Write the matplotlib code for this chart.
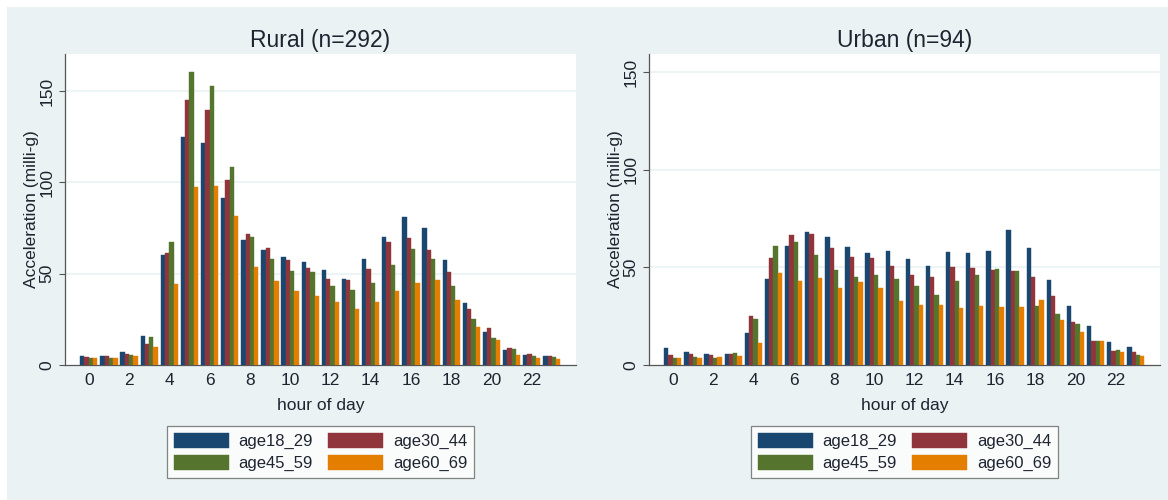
import numpy as np
import matplotlib
matplotlib.use("Agg")
import matplotlib.pyplot as plt
from matplotlib.patches import Rectangle

plt.rcParams['font.family'] = ['Liberation Sans', 'DejaVu Sans']

# mean acceleration by hour of day, per age group
hours = np.arange(24)
groups = ['age18_29', 'age30_44', 'age45_59', 'age60_69']

rural_18_29 = [4.9, 4.7, 6.9, 16.1, 60.3, 124.8, 121.7, 91.4, 68.5, 63.2, 59.2, 56.3,
               52.1, 47.1, 58.3, 70.3, 81.1, 74.9, 57.7, 33.8, 18.1, 8.4, 5.5, 4.9]
rural_30_44 = [4.2, 4.7, 5.8, 11.5, 61.2, 145.2, 139.8, 101.4, 71.6, 63.9, 57.4, 53.2,
               47.0, 46.6, 52.6, 67.2, 69.4, 63.2, 51.2, 30.7, 20.1, 9.3, 5.8, 4.7]
rural_45_59 = [3.7, 3.7, 5.5, 15.2, 67.2, 160.6, 152.9, 108.3, 70.3, 58.3, 51.3, 50.8,
               43.1, 41.1, 44.7, 55.0, 63.4, 57.9, 43.5, 25.2, 14.8, 8.8, 4.7, 4.6]
rural_60_69 = [3.7, 3.7, 4.7, 10.0, 44.4, 97.6, 98.3, 81.9, 53.7, 46.2, 40.6, 37.6,
               34.3, 30.5, 34.5, 40.7, 44.9, 46.6, 35.6, 21.0, 13.5, 5.7, 3.7, 3.5]

urban_18_29 = [8.7, 6.8, 5.6, 5.6, 16.4, 43.8, 60.9, 68.1, 65.5, 60.4, 57.2, 58.5,
               54.3, 50.7, 58.0, 57.5, 58.2, 68.9, 60.1, 43.3, 30.0, 20.1, 11.6, 9.2]
urban_30_44 = [5.3, 5.5, 4.9, 5.8, 25.1, 54.8, 66.5, 66.9, 59.9, 55.4, 54.6, 50.8,
               45.9, 44.9, 50.0, 49.8, 48.5, 47.9, 45.2, 35.5, 21.8, 12.5, 7.2, 6.7]
urban_45_59 = [3.6, 3.9, 3.4, 6.3, 23.7, 60.9, 63.1, 56.1, 48.6, 45.2, 45.9, 43.8,
               40.4, 35.8, 43.0, 46.1, 49.1, 47.9, 30.4, 25.9, 21.2, 12.1, 7.7, 4.9]
urban_60_69 = [3.8, 3.6, 3.9, 4.4, 11.4, 46.9, 42.8, 44.4, 39.2, 42.5, 39.2, 32.9,
               30.7, 30.5, 29.2, 30.2, 29.7, 29.7, 33.3, 22.9, 17.1, 12.5, 6.8, 4.6]

panels = [
    ('Rural (n=292)', [rural_18_29, rural_30_44, rural_45_59, rural_60_69], 170.4),
    ('Urban (n=94)', [urban_18_29, urban_30_44, urban_45_59, urban_60_69], 159.2),
]

# stata s2color palette
colors = ['#1a476f', '#90353b', '#55752f', '#e37e00']
bg = '#eaf2f3'
txt = '#1e2430'

fig = plt.figure(figsize=(11.68, 5.0), dpi=100, facecolor='white')
fig.patches.append(Rectangle((7 / 1168, 0), 1, 493 / 500, transform=fig.transFigure,
                             facecolor=bg, edgecolor='none', zorder=-10))

lefts = [65 / 1168, 649 / 1168]
bw = 0.215
offsets = (np.arange(4) - 1.5) * bw

for (title, series, ytop), x0 in zip(panels, lefts):
    ax = fig.add_axes([x0, 135 / 500, 511 / 1168, 311 / 500])
    ax.set_facecolor('white')
    handles = []
    for vals, off, c, g in zip(series, offsets, colors, groups):
        b = ax.bar(hours + off, vals, width=bw, color=c, edgecolor=c, linewidth=0.3, label=g, zorder=3)
        handles.append(b)

    ax.set_xlim(-1.18, 24.2)
    ax.set_ylim(0, ytop)
    ax.set_xticks(np.arange(0, 24, 2))
    ax.set_yticks([0, 50, 100, 150])
    ax.set_yticklabels(['0', '50', '100', '150'], rotation=90, va='center')
    ax.tick_params(axis='x', length=0, pad=6, labelsize=12.5, colors=txt)
    ax.tick_params(axis='y', length=4.5, width=0.8, color='#555555', pad=3, labelsize=12.5, labelcolor=txt)
    for y in [50, 100, 150]:
        ax.axhline(y, color=bg, linewidth=1.2, zorder=1)

    for s in ['top', 'right']:
        ax.spines[s].set_visible(False)
    for s in ['left', 'bottom']:
        ax.spines[s].set_color('#555555')
        ax.spines[s].set_linewidth(0.9)

    ax.set_title(title, fontsize=16.5, color=txt, pad=5)
    ax.set_xlabel('hour of day', fontsize=12.5, color=txt)
    ax.xaxis.set_label_coords(0.5, -0.106)
    ax.set_ylabel('Acceleration (milli-g)', fontsize=12.5, color=txt)
    ax.yaxis.set_label_coords(-0.05, 0.5)

    # legend rows read across: 18_29, 30_44 / 45_59, 60_69
    order = [0, 2, 1, 3]
    cx = x0 + 511 / 1168 / 2
    leg = ax.legend([handles[i] for i in order], [groups[i] for i in order],
                    loc='center', bbox_to_anchor=(cx, 0.096), bbox_transform=fig.transFigure,
                    ncol=2, fontsize=12, frameon=True, fancybox=False, handlelength=3.3,
                    handleheight=1.0, handletextpad=0.6, columnspacing=0.9, labelspacing=0.35,
                    borderpad=0.4, borderaxespad=0)
    leg.get_frame().set_edgecolor('#666666')
    leg.get_frame().set_linewidth(0.9)
    for t in leg.get_texts():
        t.set_color(txt)

fig.savefig('out.png', dpi=100, facecolor='white')
